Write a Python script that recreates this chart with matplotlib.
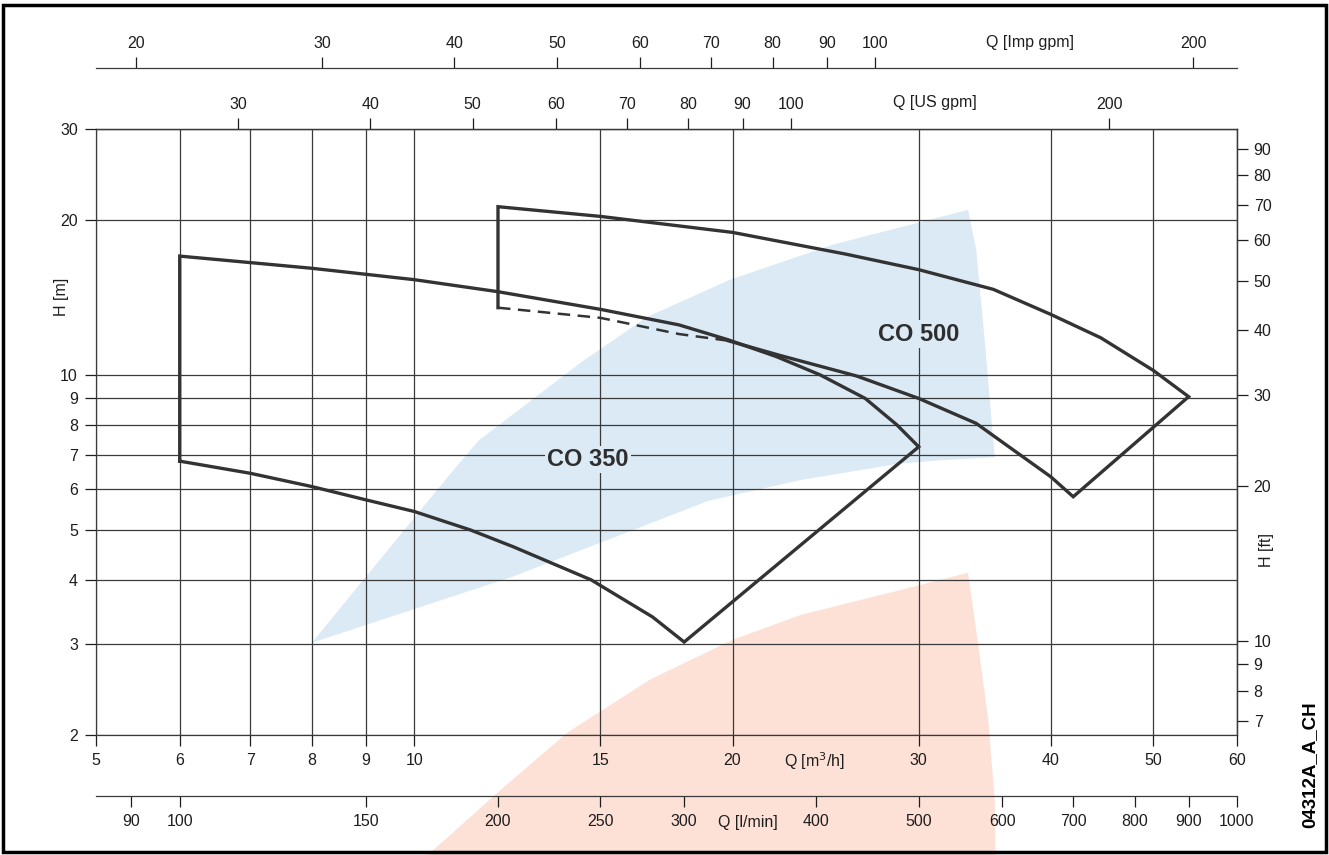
import matplotlib
matplotlib.use("Agg")
import matplotlib.pyplot as plt
from matplotlib.patches import Polygon, Rectangle
from matplotlib.ticker import NullLocator

plt.rcParams['font.family'] = ['Liberation Sans', 'DejaVu Sans']
plt.rcParams['font.size'] = 11.5

# unit conversions from m3/h and m
US_GPM = 4.40287
IMP_GPM = 3.66615
L_MIN = 16.6667
FT = 3.28084

q_ticks = [5, 6, 7, 8, 9, 10, 15, 20, 30, 40, 50, 60]
h_ticks = [2, 3, 4, 5, 6, 7, 8, 9, 10, 20, 30]
us_ticks = [30, 40, 50, 60, 70, 80, 90, 100, 200]
imp_ticks = [20, 30, 40, 50, 60, 70, 80, 90, 100, 200]
lmin_ticks = [90, 100, 150, 200, 250, 300, 400, 500, 600, 700, 800, 900, 1000]
ft_ticks = [7, 8, 9, 10, 20, 30, 40, 50, 60, 70, 80, 90]

# CO 350 envelope (Q m3/h, H m)
co350_q = [6, 6, 8, 10, 12, 15, 17.8, 19.8, 22, 24.2, 26.7, 28.6, 30,
           18, 16.8, 14.7, 12.4, 11.3, 10, 9, 8, 7, 6]
co350_h = [6.8, 17.0, 16.1, 15.3, 14.5, 13.4, 12.5, 11.7, 10.85, 10.0, 9.0, 8.0, 7.25,
           3.03, 3.39, 4.0, 4.64, 5.0, 5.43, 5.72, 6.07, 6.44, 6.8]

# CO 500 envelope, solid part and dashed part
co500_q = [19.8, 22.2, 26.2, 30, 34, 40, 42, 54, 50, 44.6, 40, 35.3, 30, 25.6,
           20, 15, 12, 12]
co500_h = [11.65, 10.9, 9.95, 9.0, 8.05, 6.34, 5.8, 9.07, 10.2, 11.8, 13.1, 14.65,
           16.0, 17.15, 18.9, 20.3, 21.2, 13.5]
co500_dash_q = [12, 15, 17.8, 19.8]
co500_dash_h = [13.5, 12.9, 12.0, 11.65]

# background fans
blue_q = [8, 10.8, 11.5, 14.35, 16.6, 19.9, 24.9, 33.4, 34.0, 34.7, 35.4, 31.6, 28.8,
          23.2, 19.0, 12.4, 8]
blue_h = [3.02, 6.4, 7.45, 10.54, 12.95, 15.3, 17.9, 20.9, 17.5, 11.2, 6.92, 6.83, 6.73,
          6.25, 5.7, 4.06, 3.02]
salmon_q = [33.4, 34.1, 34.9, 35.4, 35.5, 10.0, 10.3, 12.05, 13.95, 16.7, 20, 23.2, 28.8, 33.4]
salmon_h = [4.13, 3.06, 2.14, 1.50, 1.0, 1.0, 1.17, 1.56, 2.02, 2.56, 3.06, 3.42, 3.82, 4.13]

W, H = 1329, 855
fig = plt.figure(figsize=(W / 100, H / 100), dpi=100)
ax = fig.add_axes([96 / W, 120 / H, (1237 - 96) / W, (735 - 129) / H])
ax.set_xscale('log')
ax.set_yscale('log')
ax.set_xlim(5, 60)
ax.set_ylim(2, 30)

line_col = '#333333'
grid_col = '#3a3a3a'
txt_col = '#1e1e1e'

ax.add_patch(Polygon(list(zip(blue_q, blue_h)), closed=True, facecolor='#dceaf5',
                     edgecolor='none', zorder=0.2))
ax.add_patch(Polygon(list(zip(salmon_q, salmon_h)), closed=True, facecolor='#fde1d6',
                     edgecolor='none', zorder=0.2, clip_on=False))

ax.set_xticks(q_ticks, [str(v) for v in q_ticks])
ax.set_yticks(h_ticks, [str(v) for v in h_ticks])
ax.xaxis.set_minor_locator(NullLocator())
ax.yaxis.set_minor_locator(NullLocator())
ax.grid(True, color=grid_col, linewidth=0.9)
ax.set_axisbelow(True)
ax.tick_params(direction='out', length=8, width=0.9, pad=5, colors=txt_col)
for s in ax.spines.values():
    s.set_linewidth(0.9)
    s.set_color(grid_col)

ax.plot(co350_q, co350_h, color=line_col, lw=2.4, zorder=3, solid_joinstyle='miter')
ax.plot(co500_q, co500_h, color=line_col, lw=2.4, zorder=3, solid_joinstyle='miter')
ax.plot(co500_dash_q, co500_dash_h, color=line_col, lw=1.8, ls=(0, (5, 3)), zorder=3)

box = dict(facecolor='#dceaf5', edgecolor='none', pad=1.5)
ax.text(14.6, 6.85, 'CO 350', fontsize=17, fontweight='bold', color='#2e2e2e',
        ha='center', va='center', zorder=2.5, bbox=box)
ax.text(30, 12.0, 'CO 500', fontsize=17, fontweight='bold', color='#2e2e2e',
        ha='center', va='center', zorder=2.5, bbox=box)


def side_axis(twin, spine, offset):
    for name, s in twin.spines.items():
        s.set_visible(name == spine)
    twin.spines[spine].set_linewidth(0.9)
    twin.spines[spine].set_color(grid_col)
    if offset:
        twin.spines[spine].set_position(('outward', offset))


# US gpm on top
ax_us = ax.twiny()
ax_us.set_xscale('log')
ax_us.set_xlim(5 * US_GPM, 60 * US_GPM)
ax_us.set_xticks(us_ticks, [str(v) for v in us_ticks])
ax_us.xaxis.set_minor_locator(NullLocator())
side_axis(ax_us, 'top', 0)
ax_us.tick_params(direction='out', length=8, width=0.9, pad=4, colors=txt_col)

# Imp gpm further up
ax_imp = ax.twiny()
ax_imp.set_xscale('log')
ax_imp.set_xlim(5 * IMP_GPM, 60 * IMP_GPM)
ax_imp.set_xticks(imp_ticks, [str(v) for v in imp_ticks])
ax_imp.xaxis.set_minor_locator(NullLocator())
side_axis(ax_imp, 'top', 44)
ax_imp.tick_params(direction='out', length=8, width=0.9, pad=4, colors=txt_col)

# l/min below
ax_l = ax.twiny()
ax_l.set_xscale('log')
ax_l.set_xlim(5 * L_MIN, 60 * L_MIN)
ax_l.xaxis.set_ticks_position('bottom')
ax_l.set_xticks(lmin_ticks, [str(v) for v in lmin_ticks])
ax_l.xaxis.set_minor_locator(NullLocator())
side_axis(ax_l, 'bottom', 44)
ax_l.tick_params(direction='out', length=8, width=0.9, pad=5, colors=txt_col)

# feet on the right
ax_ft = ax.twinx()
ax_ft.set_yscale('log')
ax_ft.set_ylim(2 * FT, 30 * FT)
ax_ft.set_yticks(ft_ticks, [str(v) for v in ft_ticks])
ax_ft.yaxis.set_minor_locator(NullLocator())
side_axis(ax_ft, 'right', 0)
ax_ft.tick_params(direction='out', length=8, width=0.9, pad=4, colors=txt_col)

# unit labels
ax.text(23.9, -0.043, 'Q [m$^3$/h]', transform=ax.get_xaxis_transform(),
        ha='center', va='center', color=txt_col)
ax.text(20.7, -0.145, 'Q [l/min]', transform=ax.get_xaxis_transform(),
        ha='center', va='center', color=txt_col)
ax.text(31.1, 1.043, 'Q [US gpm]', transform=ax.get_xaxis_transform(),
        ha='center', va='center', color=txt_col)
ax.text(38.2, 1.142, 'Q [Imp gpm]', transform=ax.get_xaxis_transform(),
        ha='center', va='center', color=txt_col)
ax.text(-0.03, 14.2, 'H [m]', transform=ax.get_yaxis_transform(), rotation=90,
        ha='center', va='center', color=txt_col)
ax.text(1.026, 4.57, 'H [ft]', transform=ax.get_yaxis_transform(), rotation=90,
        ha='center', va='center', color=txt_col)

fig.text(1310 / W, 1 - 765 / H, '04312A_A_CH', rotation=90, ha='center', va='center',
         fontsize=13.5, fontweight='bold', color='black')
fig.patches.append(Rectangle((3 / W, 3 / H), 1 - 6 / W, 1 - 8 / H, transform=fig.transFigure,
                             fill=False, edgecolor='black', linewidth=2.5))

fig.savefig('out.png', dpi=100, facecolor='white')
